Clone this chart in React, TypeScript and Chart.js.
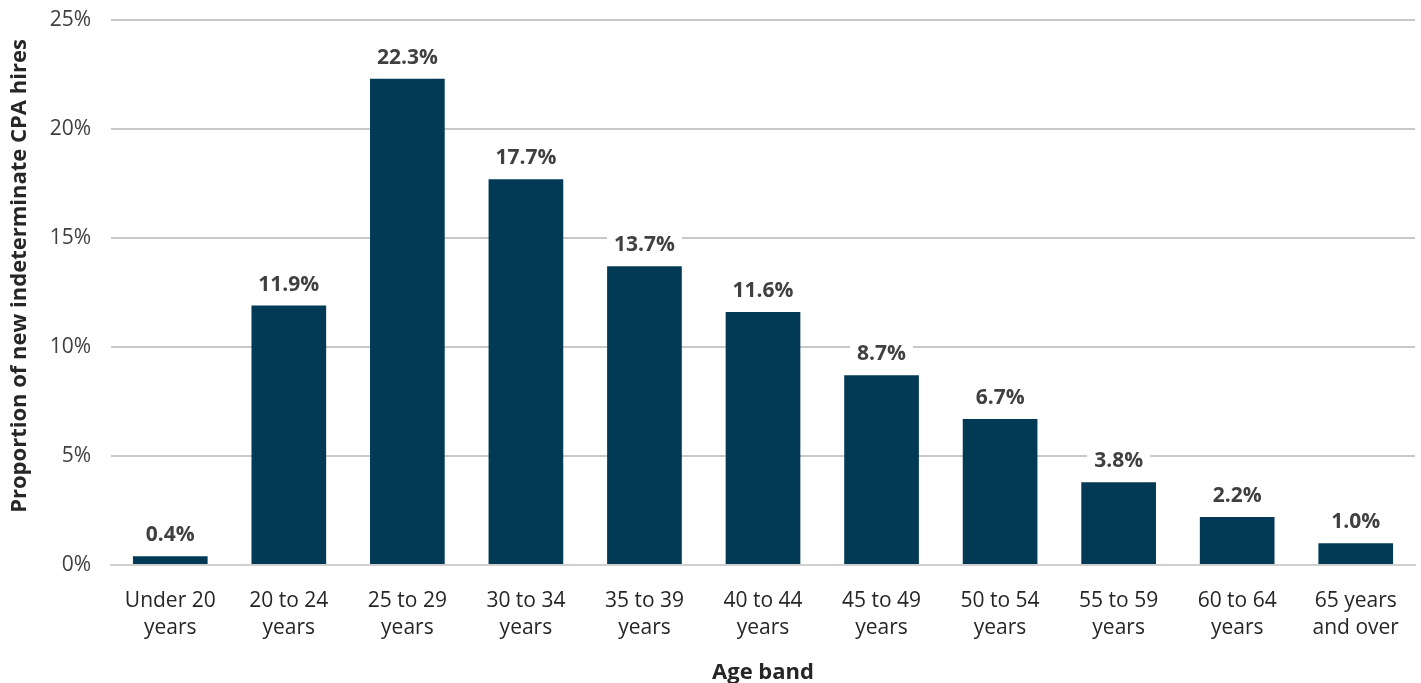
import React, { useEffect, useRef } from "react";
import { Chart, registerables } from "chart.js";

Chart.register(...registerables);

const categories: string[][] = [
  ["Under 20", "years"],
  ["20 to 24", "years"],
  ["25 to 29", "years"],
  ["30 to 34", "years"],
  ["35 to 39", "years"],
  ["40 to 44", "years"],
  ["45 to 49", "years"],
  ["50 to 54", "years"],
  ["55 to 59", "years"],
  ["60 to 64", "years"],
  ["65 years", "and over"],
];
const values: number[] = [0.4, 11.9, 22.3, 17.7, 13.7, 11.6, 8.7, 6.7, 3.8, 2.2, 1.0];
const yTicks: number[] = [0, 5, 10, 15, 20, 25];
const yTitle = "Proportion of new indeterminate CPA hires";
const xTitle = "Age band";

const FONT = "'Open Sans', sans-serif";

const labelPlugin = {
  id: "barLabels",
  afterDatasetsDraw(chart: any) {
    const ctx = chart.ctx;
    const meta = chart.getDatasetMeta(0);
    ctx.save();
    ctx.font = `bold 21px ${FONT}`;
    ctx.textAlign = "center";
    ctx.textBaseline = "middle";
    meta.data.forEach((bar: any, i: number) => {
      const text = values[i].toFixed(1) + "%";
      const y = bar.y - 21;
      const w = ctx.measureText(text).width + 14;
      ctx.fillStyle = "#ffffff";
      ctx.fillRect(bar.x - w / 2, y - 12, w, 24);
      ctx.fillStyle = "#404040";
      ctx.fillText(text, bar.x, y);
    });
    // y axis title
    ctx.save();
    ctx.translate(20, 276);
    ctx.rotate(-Math.PI / 2);
    ctx.font = `bold 22px ${FONT}`;
    ctx.fillStyle = "#262626";
    ctx.fillText(yTitle, 0, 0);
    ctx.restore();
    ctx.restore();
  },
};

export default function App() {
  const ref = useRef<HTMLCanvasElement | null>(null);
  useEffect(() => {
    document.body.style.margin = "0";
    const chart = new Chart(ref.current as HTMLCanvasElement, {
      type: "bar",
      data: {
        labels: categories,
        datasets: [
          {
            data: values,
            backgroundColor: "#023a55",
            categoryPercentage: 1,
            barPercentage: 0.63,
          },
        ],
      },
      plugins: [labelPlugin],
      options: {
        animation: false,
        responsive: false,
        maintainAspectRatio: false,
        layout: { padding: { top: 20, right: 6, bottom: 0, left: 0 } },
        plugins: {
          legend: { display: false },
          tooltip: { enabled: false },
        },
        scales: {
          x: {
            grid: { display: false },
            border: { display: true, color: "#d0d0d0", width: 2 },
            ticks: {
              color: "#262626",
              font: { family: FONT, size: 21, lineHeight: 1.3 },
              padding: 14,
              maxRotation: 0,
              autoSkip: false,
            },
            title: {
              display: true,
              text: xTitle,
              color: "#262626",
              font: { family: FONT, size: 22, weight: "bold" },
              padding: { top: 0, bottom: -3 },
            },
            afterFit: (s: any) => {
              s.height = 118;
              s.paddingLeft = 0;
              s.paddingRight = 0;
            },
          },
          y: {
            min: 0,
            max: 25,
            afterBuildTicks: (s: any) => {
              s.ticks = yTicks.map((v) => ({ value: v }));
            },
            grid: {
              color: "#c8c8c8",
              lineWidth: 2,
              drawTicks: false,
            },
            border: { display: false },
            ticks: {
              color: "#404040",
              font: { family: FONT, size: 21 },
              padding: 20,
              callback: (v: any) => v + "%",
            },
            afterFit: (s: any) => {
              s.width = 111;
              s.paddingTop = 0;
              s.paddingBottom = 0;
            },
          },
        },
      },
    });
    return () => chart.destroy();
  }, []);
  return (
    <div style={{ position: "absolute", left: 0, top: 0, width: 1421, height: 683 }}>
      <canvas ref={ref} width={1421} height={683} style={{ width: 1421, height: 683 }} />
    </div>
  );
}
